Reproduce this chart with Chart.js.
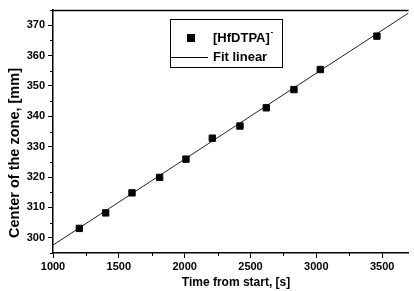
<!DOCTYPE html>
<html>
<head>
<meta charset="utf-8">
<script src="https://cdn.jsdelivr.net/npm/chart.js@4/dist/chart.umd.min.js"></script>
<style>
    html, body {margin: 0; padding: 0; background: #fff;}
    #wrap {width: 414px; height: 291px; position: relative;}
</style>
</head>
<body>
<div id="wrap"><canvas id="chart" width="414" height="291"></canvas></div>
<script>
// Данные с картинки
const timeS = [1200, 1400, 1600, 1810, 2010, 2210, 2420, 2620, 2830, 3030, 3460]
const centerMm = [303.1, 308.2, 314.8, 319.9, 325.9, 332.8, 336.8, 342.8, 348.8, 355.4, 366.4]
const fitX = [1000, 3700]
const fitY = [297.6, 374.0]
const xTicks = [1000, 1500, 2000, 2500, 3000, 3500]
const yTicks = [300, 310, 320, 330, 340, 350, 360, 370]
const xMinorTicks = [1250, 1750, 2250, 2750, 3250, 3750]
const yMinorTicks = [295, 305, 315, 325, 335, 345, 355, 365, 375]

const FONT = '"Liberation Sans", Arial, sans-serif'

// Рамка сверху, малые деления, подписи осей и легенда
const extras = {
    id: 'extras',
    afterDraw(chart) {
        const {ctx, chartArea: a, scales: {x, y}} = chart
        ctx.save()
        ctx.strokeStyle = '#000'
        ctx.lineWidth = 1.3
        ctx.beginPath()
        ctx.moveTo(a.left, a.top + 0.5)
        ctx.lineTo(a.right, a.top + 0.5)
        ctx.stroke()

        ctx.lineWidth = 1
        ctx.beginPath()
        xMinorTicks.forEach(v => {
            if (v > x.max) return
            const px = Math.round(x.getPixelForValue(v)) + 0.5
            ctx.moveTo(px, a.bottom)
            ctx.lineTo(px, a.bottom + 3)
        })
        yMinorTicks.forEach(v => {
            if (v > y.max || v < y.min) return
            const py = Math.round(y.getPixelForValue(v)) + 0.5
            ctx.moveTo(a.left, py)
            ctx.lineTo(a.left - 3, py)
        })
        ctx.stroke()

        ctx.fillStyle = '#000'
        ctx.font = 'bold 12px ' + FONT
        ctx.textAlign = 'center'
        ctx.textBaseline = 'middle'
        ctx.fillText('Time from start, [s]', 236, 283)

        ctx.save()
        ctx.translate(15, 153)
        ctx.rotate(-Math.PI / 2)
        ctx.font = 'bold 14.5px ' + FONT
        ctx.fillText('Center of the zone, [mm]', 0, 0)
        ctx.restore()

        // легенда
        ctx.lineWidth = 1
        ctx.strokeRect(170.5, 19.5, 112, 48)
        ctx.fillRect(187, 34, 8, 8)
        ctx.beginPath()
        ctx.moveTo(171, 57.5)
        ctx.lineTo(208, 57.5)
        ctx.stroke()
        ctx.font = 'bold 13px ' + FONT
        ctx.textAlign = 'left'
        ctx.fillText('[HfDTPA]', 213, 38)
        const w = ctx.measureText('[HfDTPA]').width
        ctx.font = 'bold 7px ' + FONT
        ctx.fillText('-', 213 + w + 1, 32)
        ctx.font = 'bold 13px ' + FONT
        ctx.fillText('Fit linear', 213, 57)
        ctx.restore()
    }
}

const tickFont = {family: FONT, size: 11, weight: 'bold'}

new Chart(document.getElementById('chart'), {
    type: 'scatter',
    data: {
        datasets: [{
            label: '[HfDTPA]-',
            data: timeS.map((t, i) => ({x: t, y: centerMm[i]})),
            pointStyle: 'rect',
            pointRadius: 4.5,
            backgroundColor: '#000',
            borderColor: '#000',
            showLine: false
        }, {
            label: 'Fit linear',
            data: fitX.map((t, i) => ({x: t, y: fitY[i]})),
            showLine: true,
            pointRadius: 0,
            borderColor: '#222',
            borderWidth: 1
        }]
    },
    options: {
        responsive: false,
        animation: false,
        layout: {padding: {top: 10, right: 0, left: 0, bottom: 0}},
        plugins: {legend: {display: false}, tooltip: {enabled: false}},
        scales: {
            x: {
                type: 'linear',
                min: 1000,
                max: 3700,
                afterBuildTicks: s => { s.ticks = xTicks.map(v => ({value: v})) },
                afterFit: s => { s.height = 38 },
                grid: {display: true, drawOnChartArea: false, drawTicks: true, tickLength: 5, color: '#000', lineWidth: 1},
                border: {display: true, color: '#000', width: 1.5},
                ticks: {color: '#000', font: tickFont, padding: 2, maxRotation: 0, callback: v => String(v)}
            },
            y: {
                type: 'linear',
                min: 295,
                max: 375,
                afterBuildTicks: s => { s.ticks = yTicks.map(v => ({value: v})) },
                afterFit: s => { s.width = 53 },
                grid: {display: true, drawOnChartArea: false, drawTicks: true, tickLength: 5, color: '#000', lineWidth: 1},
                border: {display: true, color: '#000', width: 1.5},
                ticks: {color: '#000', font: tickFont, padding: 3, callback: v => String(v)}
            }
        }
    },
    plugins: [extras]
})
</script>
</body>
</html>
